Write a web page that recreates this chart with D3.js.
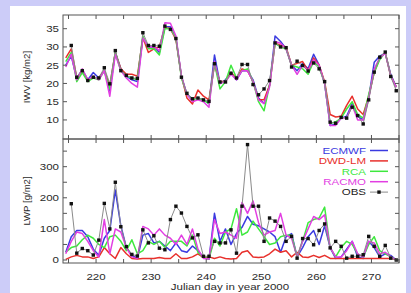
<!DOCTYPE html>
<meta charset="utf-8">
<script src="https://d3js.org/d3.v7.min.js"></script>
<style>
  body { margin: 0; background: #ccccf8; }
  text { font-family: "Liberation Sans", Arial, sans-serif; fill: #2a2a2a; }
</style>
<div id="my_dataviz"></div>
<script>

// days of the model series (daily means, plotted at mid-day)
var modelDays = [214,215,216,217,218,219,220,221,222,223,224,225,226,227,228,229,230,231,232,233,234,
  235,236,237,238,239,240,241,242,243,244,245,246,247,248,249,250,251,252,253,254,
  255,256,257,258,259,260,261,262,263,264,265,266,267,268,269,270,271,272,273,274];
// days of the observations
var obsDays = modelDays.slice(1);

var seriesNames = ["ECMWF", "DWD-LM", "RCA", "RACMO"];
var seriesColors = ["#3a3ae0", "#e8302c", "#3ee83e", "#e23ee2"];

// IWV [kg/m2]
var iwvECMWF = [25,27.5,21.5,23.8,21,23,21.5,23.5,18,28.5,24,22,21,20.5,32.5,30,30,28.5,35.5,35.5,32.5,
  22,17,15.8,16,15.5,14.5,27.8,20,21,23,21,23.5,23.5,21,16,14.5,19.5,33,31.5,29.5,
  25,23.5,25.5,24,28,25,20,8.5,8.8,10.5,11,14.5,11,10,16,25.8,27.5,28.3,22.5,19];
var iwvDWD = [27,29.5,21.5,23.5,21,21.5,21.5,23.5,19.5,28.5,24,22.5,22.5,22,32.5,28.5,29.5,30,35.5,35,32,
  22,16,14.4,18.2,16.5,15.5,25,20.5,20.5,23,21.5,24,23.5,20.5,15.5,15.5,19.5,31,30.5,30,
  25,25.5,26,23.5,27,25,20.5,11.5,10.8,11,14,16.5,13,11.5,16.5,23,27,28.5,22,19];
var iwvRCA = [26,28.5,20.5,23,20.5,21.5,21,23.5,18.5,28.5,23.5,22,21.5,21,33,29.5,29.5,27.8,35,35,32.5,
  21.5,17,15.5,16,15.5,14.5,25.5,18.5,20.5,25,21.5,23.5,24,20.5,15,12.5,19.5,31,30,29.5,
  25,24.5,24,22.5,26,24.5,20,9,9.5,10.5,13,15,11.5,10.5,17,23,26.5,28.5,22,19];
var iwvRACMO = [24.5,28,21,24,21,22,21,23.5,16.5,28,23.5,21.5,20,19,32.5,30,30,29,36.6,36.5,33,
  22,17,15,15.5,15,13.5,26,20,20.5,22.5,21,23.5,23.5,20.5,15.5,14.5,19,31.5,31,29.5,
  25,22.5,25,23.5,26.5,25,20,8.5,8.5,10.5,10.5,14,10,10,16,24,27,28.3,22,19];
var iwvOBS = [30.4,21.7,23.5,20.8,21.7,21.5,24.3,19.9,29,23.5,22.2,21.5,21.4,33.9,30.4,30.4,30.2,35.7,34.8,32.3,
  21.7,17.3,15.8,16,15.5,15.1,25.4,20.4,20.4,22.8,21.5,25.2,25.2,19.7,16.9,18.5,20.8,31.1,30,29.8,
  24.5,26.1,24.9,23.4,25.6,24,20.5,9.4,9.1,10.7,10.5,13.5,11.2,8.9,15.5,23.1,27.2,28.6,21.9,18];

// LWP [g/m2]
var lwpECMWF = [25,75,95,95,75,35,15,70,95,225,110,40,15,5,80,85,55,60,45,30,55,
  30,25,45,30,8,3,150,60,100,50,85,105,140,115,110,100,90,75,25,75,
  85,10,40,75,95,50,110,40,5,10,35,60,10,5,60,40,10,20,15,0];
var lwpDWD = [2,10,15,10,10,5,10,40,20,5,40,20,5,3,5,5,5,8,5,5,20,
  5,5,10,20,8,10,5,10,5,3,5,25,30,10,8,10,20,35,25,30,
  10,25,10,8,15,8,15,5,5,5,5,5,5,5,5,5,5,5,5,2];
var lwpRCA = [25,40,45,65,80,70,50,40,75,80,60,30,65,20,30,60,50,60,40,60,60,
  60,45,80,25,8,3,70,45,90,100,165,80,90,125,100,75,50,55,75,80,
  80,10,60,120,130,135,170,40,10,40,60,50,20,10,50,75,30,20,10,0];
var lwpRACMO = [20,60,90,85,60,30,10,130,20,100,90,40,10,5,108,100,80,100,80,70,50,
  80,50,100,35,5,3,130,85,90,80,70,185,150,190,120,80,90,95,150,80,
  70,10,60,100,140,130,145,40,10,10,30,60,20,10,60,55,20,25,10,0];
var lwpOBS = [181,22,37,30,16,64,182,100,250,107,43,18,13,97,55,78,38,33,130,173,
  151,108,71,81,12,12,60,55,55,97,22,173,371,173,173,60,135,125,108,60,
  76,6,69,69,49,95,116,39,60,44,6,12,12,17,76,44,12,47,6,0];

var xTicks = [215,220,225,230,235,240,245,250,255,260,265,270,275];
var xLabels = [220,230,240,250,260,270];
var iwvTicks = [10,15,20,25,30,35];
var lwpTicks = [0,50,100,150,200,250,300,350];
var lwpLabels = [0,100,200,300];

var W = 411, H = 293;
var left = 63, right = 399, top1 = 15, mid = 139, bot = 263;
var fs = "9.6px", stretch = 1.2;   // the picture is a little wider than tall

var svg = d3.select("#my_dataviz")
  .append("svg")
    .attr("width", W)
    .attr("height", H);

// white card on the lavender page
svg.append("rect")
  .attr("x", 10).attr("y", 6)
  .attr("width", 396).attr("height", H - 6)
  .attr("fill", "#fff");

var x = d3.scaleLinear().domain([214, 275]).range([left, right]);
var y1 = d3.scaleLinear().domain([4.78, 38.75]).range([mid, top1]);
var y2 = d3.scaleLinear().domain([-9.6, 389]).range([bot, mid]);

function label(g, tx, ty, anchor, str, color) {
  return g.append("text")
    .attr("transform", "translate(" + tx + "," + ty + ")scale(" + stretch + ",1)")
    .attr("dy", "0.35em")
    .style("text-anchor", anchor)
    .style("font-size", fs)
    .style("fill", color || null)
    .text(str);
}

function drawPanel(y, yTicks, yLabels, data, obs, showBottomLabels) {
  var g = svg.append("g");
  var y0 = y.range()[0], yT = y.range()[1];

  // model lines
  data.forEach(function(vals, i) {
    var line = d3.line()
      .x(function(d, j) { return x(modelDays[j] + 0.5); })
      .y(function(d) { return y(d); });
    g.append("path")
      .datum(vals)
      .attr("fill", "none")
      .attr("stroke", seriesColors[i])
      .attr("stroke-width", 1.5)
      .attr("stroke-linejoin", "round")
      .attr("d", line);
  });

  // observations
  var obsLine = d3.line()
    .x(function(d, j) { return x(obsDays[j] + 0.5); })
    .y(function(d) { return y(d); });
  g.append("path")
    .datum(obs)
    .attr("fill", "none")
    .attr("stroke", "#8a8a8a")
    .attr("stroke-width", 1)
    .attr("d", obsLine);
  g.selectAll("rect.obs")
    .data(obs)
    .enter()
    .append("rect")
      .attr("x", function(d, j) { return x(obsDays[j] + 0.5) - 1.7; })
      .attr("y", function(d) { return y(d) - 1.7; })
      .attr("width", 3.4)
      .attr("height", 3.4)
      .attr("fill", "#111");

  // frame
  g.append("rect")
    .attr("x", left).attr("y", yT)
    .attr("width", right - left).attr("height", y0 - yT)
    .attr("fill", "none")
    .attr("stroke", "#555")
    .attr("stroke-width", 1);

  // inside ticks on all four sides
  var tk = 4;
  xTicks.forEach(function(t) {
    g.append("line").attr("x1", x(t)).attr("x2", x(t)).attr("y1", y0).attr("y2", y0 - tk)
      .attr("stroke", "#555");
    g.append("line").attr("x1", x(t)).attr("x2", x(t)).attr("y1", yT).attr("y2", yT + tk)
      .attr("stroke", "#555");
  });
  yTicks.forEach(function(t) {
    g.append("line").attr("x1", left).attr("x2", left + tk).attr("y1", y(t)).attr("y2", y(t))
      .attr("stroke", "#555");
    g.append("line").attr("x1", right).attr("x2", right - tk).attr("y1", y(t)).attr("y2", y(t))
      .attr("stroke", "#555");
  });
  yLabels.forEach(function(t) {
    label(g, left - 4, y(t), "end", t);
  });
  if (showBottomLabels) {
    xLabels.forEach(function(t) {
      label(g, x(t), y0 + 13.5, "middle", t);
    });
  }
}

drawPanel(y1, iwvTicks, iwvTicks, [iwvECMWF, iwvDWD, iwvRCA, iwvRACMO], iwvOBS, false);
drawPanel(y2, lwpTicks, lwpLabels, [lwpECMWF, lwpDWD, lwpRCA, lwpRACMO], lwpOBS, true);

// Add Y axis labels
svg.append("text")
  .attr("transform", "translate(30," + ((top1 + mid) / 2) + ")rotate(-90)")
  .style("text-anchor", "middle")
  .style("font-size", fs)
  .text("IWV [kg/m2]");
svg.append("text")
  .attr("transform", "translate(30," + ((mid + bot) / 2) + ")rotate(-90)")
  .style("text-anchor", "middle")
  .style("font-size", fs)
  .text("LWP [g/m2]");

// Add X axis label
label(svg, (left + right) / 2 - 1, 286.5, "middle", "Julian day in year 2000");

// legend
var legNames = seriesNames.concat(["OBS"]);
var legColors = seriesColors.concat(["#222"]);
var legend = svg.append("g");
legNames.forEach(function(n, i) {
  var ly = 150.5 + i * 10.4;
  label(legend, 366, ly, "end", n, legColors[i]);
  legend.append("line")
    .attr("x1", 370).attr("x2", 388)
    .attr("y1", ly).attr("y2", ly)
    .attr("stroke", i < 4 ? seriesColors[i] : "#8a8a8a")
    .attr("stroke-width", i < 4 ? 1.5 : 1);
  if (i == 4) {
    legend.append("rect")
      .attr("x", 379 - 1.7).attr("y", ly - 1.7)
      .attr("width", 3.4).attr("height", 3.4)
      .attr("fill", "#111");
  }
});

</script>
